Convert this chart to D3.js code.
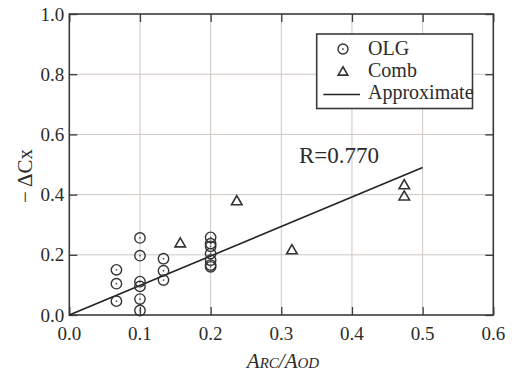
<!DOCTYPE html>
<html><head><meta charset="utf-8">
<script src="https://cdn.jsdelivr.net/npm/d3@7"></script>
</head>
<body style="margin:0">
<svg id="c" width="516" height="376" font-family="Liberation Serif"></svg>
<script>
// ---- data ----
const olgX = [0.0667,0.0667,0.0667, 0.1,0.1,0.1,0.1,0.1,0.1, 0.1333,0.1333,0.1333, 0.2,0.2,0.2,0.2,0.2,0.2,0.2];
const olgY = [0.150,0.104,0.046, 0.256,0.197,0.111,0.095,0.053,0.015, 0.187,0.147,0.116, 0.258,0.237,0.228,0.204,0.182,0.166,0.160];
const combX = [0.157,0.237,0.315,0.474,0.474];
const combY = [0.239,0.379,0.216,0.432,0.395];
const fitX = [0,0.5];
const fitY = [0,0.49];
const xTicks = [0,0.1,0.2,0.3,0.4,0.5,0.6];
const yTicks = [0,0.2,0.4,0.6,0.8,1.0];
const legendLabels = ["OLG","Comb","Approximate"];
const rLabel = "R=0.770";

const FONT = "Liberation Serif";
const TXT = "#2b2b2b";
const svg = d3.select("#c");
const L=69.3, R=493.3, T=14, B=315;
const x = d3.scaleLinear().domain([0,0.6]).range([L,R]);
const y = d3.scaleLinear().domain([0,1]).range([B,T]);
const axisCol="#3a3a3a", gridCol="#cfc6c0";

// grid
svg.append("g").selectAll("line").data(xTicks.slice(1,-1)).join("line")
  .attr("x1",d=>x(d)).attr("x2",d=>x(d)).attr("y1",T).attr("y2",B)
  .attr("stroke",gridCol).attr("stroke-width",1);
svg.append("g").selectAll("line").data(yTicks.slice(1,-1)).join("line")
  .attr("y1",d=>y(d)).attr("y2",d=>y(d)).attr("x1",L).attr("x2",R)
  .attr("stroke",gridCol).attr("stroke-width",1);

// axes (inward ticks on all four sides)
const fmt = d3.format(".1f");
function ticksOnly(g){
  g.select(".domain").remove();
  g.selectAll(".tick text").remove();
  g.selectAll(".tick line").attr("stroke",axisCol).attr("stroke-width",1.3);
}
svg.append("g").attr("transform",`translate(0,${B})`)
  .call(d3.axisBottom(x).tickValues(xTicks).tickSizeInner(-8).tickSizeOuter(0)).call(ticksOnly);
svg.append("g").attr("transform",`translate(${L},0)`)
  .call(d3.axisLeft(y).tickValues(yTicks).tickSizeInner(-8).tickSizeOuter(0)).call(ticksOnly);
svg.append("g").attr("transform",`translate(0,${T})`)
  .call(d3.axisTop(x).tickValues(xTicks).tickSizeInner(-8).tickSizeOuter(0)).call(ticksOnly);
svg.append("g").attr("transform",`translate(${R},0)`)
  .call(d3.axisRight(y).tickValues(yTicks).tickSizeInner(-8).tickSizeOuter(0)).call(ticksOnly);

svg.append("g").selectAll("text").data(xTicks).join("text")
  .attr("x",d=>x(d)).attr("y",B+25).attr("text-anchor","middle")
  .attr("font-family",FONT).attr("font-size",19).attr("fill",TXT).text(fmt);
svg.append("g").selectAll("text").data(yTicks).join("text")
  .attr("x",L-5).attr("y",d=>y(d)+6.5).attr("text-anchor","end")
  .attr("font-family",FONT).attr("font-size",19).attr("fill",TXT).text(fmt);

// frame
svg.append("rect").attr("x",L).attr("y",T).attr("width",R-L).attr("height",B-T)
  .attr("fill","none").attr("stroke",axisCol).attr("stroke-width",1.6);

// fit line
const fitData = fitX.map((v,i)=>[v,fitY[i]]);
svg.append("path").datum(fitData)
  .attr("d",d3.line().x(d=>x(d[0])).y(d=>y(d[1])))
  .attr("fill","none").attr("stroke","#222").attr("stroke-width",1.6);

// OLG circles
const olg = olgX.map((v,i)=>[v,olgY[i]]);
const og = svg.append("g").selectAll("g").data(olg).join("g")
  .attr("transform",d=>`translate(${x(d[0])},${y(d[1])})`);
og.append("circle").attr("r",5.2).attr("fill","none").attr("stroke","#333").attr("stroke-width",1.4);
og.append("circle").attr("r",0.9).attr("fill","#555");

// Comb triangles
const tri = d3.symbol().type(d3.symbolTriangle).size(48);
const comb = combX.map((v,i)=>[v,combY[i]]);
svg.append("g").selectAll("path").data(comb).join("path")
  .attr("transform",d=>`translate(${x(d[0])},${y(d[1])+0.8})`)
  .attr("d",tri).attr("fill","none").attr("stroke","#333").attr("stroke-width",1.6);

// R label
svg.append("text").attr("x",299).attr("y",163).attr("font-family",FONT).attr("fill",TXT)
  .attr("font-size",23).text(rLabel);

// legend
const lg = svg.append("g");
lg.append("rect").attr("x",316.7).attr("y",34).attr("width",155.8).attr("height",74.5)
  .attr("fill","#fff").attr("stroke",axisCol).attr("stroke-width",1.6);
const lgY=[49,71.5,94.5];
lg.append("circle").attr("cx",343).attr("cy",lgY[0]).attr("r",5).attr("fill","none").attr("stroke","#333").attr("stroke-width",1.4);
lg.append("circle").attr("cx",343).attr("cy",lgY[0]).attr("r",0.9).attr("fill","#555");
lg.append("path").attr("transform",`translate(343,${lgY[1]+0.8})`).attr("d",d3.symbol().type(d3.symbolTriangle).size(40))
  .attr("fill","none").attr("stroke","#333").attr("stroke-width",1.6);
lg.append("line").attr("x1",323.3).attr("x2",360).attr("y1",lgY[2]).attr("y2",lgY[2]).attr("stroke","#222").attr("stroke-width",1.6);
lg.selectAll("text").data(legendLabels).join("text")
  .attr("x",368).attr("y",(d,i)=>[54.5,76.5,98.5][i]).attr("font-family",FONT).attr("fill",TXT)
  .attr("font-size",20).text(d=>d);

// axis titles
const xt = svg.append("text").attr("x",283).attr("y",368).attr("text-anchor","middle")
  .attr("font-family",FONT).attr("fill",TXT).attr("font-style","italic").attr("font-size",21);
xt.append("tspan").text("A");
xt.append("tspan").attr("font-size",15).text("RC");
xt.append("tspan").text("/A");
xt.append("tspan").attr("font-size",15).text("OD");

svg.append("text").attr("transform","translate(32,176) rotate(-90)").attr("text-anchor","middle")
  .attr("font-family",FONT).attr("fill",TXT).attr("font-size",21).text("− ΔCx");
</script></body></html>
